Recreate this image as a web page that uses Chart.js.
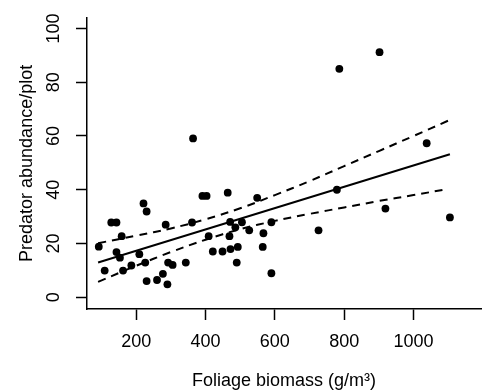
<!DOCTYPE html>
<html>
<head>
<meta charset="utf-8">
<script src="https://cdn.jsdelivr.net/npm/chart.js@4/dist/chart.umd.min.js"></script>
<style>
  html, body { margin: 0; padding: 0; background: #fff; }
  #wrap { width: 485px; height: 392px; position: relative; }
</style>
</head>
<body>
<div id="wrap"><canvas id="c" width="485" height="392"></canvas></div>
<script>
// Observed points: foliage biomass (g/m^3) vs predator abundance per plot
const biomass = [92, 109, 128, 143, 143, 153, 158, 162, 186, 209, 221, 230, 226, 230, 260, 277, 290, 285, 292, 305, 343, 361, 364, 391, 403, 409, 421, 449, 464, 471, 486, 505, 469, 472, 493, 490, 526, 549, 567, 565, 590, 590, 726, 779, 786, 902, 919, 1038, 1105];
const predators = [18.8, 9.9, 27.8, 27.8, 16.8, 14.7, 22.7, 9.9, 11.8, 16, 34.9, 31.9, 12.9, 6, 6.4, 8.7, 4.8, 27, 12.9, 12, 12.9, 27.8, 59.1, 37.7, 37.7, 22.7, 17, 17, 38.9, 28, 26, 27.9, 22.7, 17.9, 18.7, 12.9, 24.9, 37, 23.8, 18.7, 27.9, 8.9, 24.9, 40, 85, 91.2, 33, 57.3, 29.7];

// Fitted regression line (endpoints)
const fitX = [90, 1105];
const fitY = [12.9, 53.2];

// Confidence band, read at sample positions
const bandX = [90, 200, 300, 400, 500, 600, 700, 800, 900, 1000, 1100];
const bandUpper = [20.1, 22.9, 25.6, 29.0, 33.1, 38.0, 43.2, 48.8, 54.4, 60.0, 65.7];
const bandLower = [5.7, 11.7, 16.8, 21.4, 25.3, 28.4, 31.0, 33.4, 35.8, 38.0, 40.3];

// Tick labels
const xTicks = [200, 400, 600, 800, 1000];
const yTicks = [0, 20, 40, 60, 80, 100];

const FONT = "'Liberation Sans', Arial, sans-serif";
const pts = (xa, ya) => xa.map((x, i) => ({ x: x, y: ya[i] }));

new Chart(document.getElementById('c'), {
  type: 'scatter',
  data: {
    datasets: [
      {
        label: 'points',
        data: pts(biomass, predators),
        backgroundColor: '#000',
        borderColor: '#000',
        pointRadius: 3.9,
        pointBorderWidth: 0,
        pointHoverRadius: 3.9
      },
      {
        label: 'fit',
        data: pts(fitX, fitY),
        showLine: true,
        borderColor: '#000',
        borderWidth: 2,
        pointRadius: 0,
        fill: false
      },
      {
        label: 'upper',
        data: pts(bandX, bandUpper),
        showLine: true,
        borderColor: '#000',
        borderWidth: 2,
        borderDash: [8, 6],
        pointRadius: 0,
        tension: 0.4,
        fill: false
      },
      {
        label: 'lower',
        data: pts(bandX, bandLower),
        showLine: true,
        borderColor: '#000',
        borderWidth: 2,
        borderDash: [8, 6],
        pointRadius: 0,
        tension: 0.4,
        fill: false
      }
    ]
  },
  options: {
    responsive: false,
    animation: false,
    events: [],
    layout: { padding: { left: 0, right: 0, top: 13, bottom: 0 } },
    plugins: { legend: { display: false }, tooltip: { enabled: false } },
    scales: {
      x: {
        type: 'linear',
        min: 58,
        max: 1195,
        afterBuildTicks: (s) => { s.ticks = xTicks.map(v => ({ value: v })); },
        afterFit: (s) => { s.height = 83; },
        grid: { display: true, drawOnChartArea: false, drawTicks: true, tickLength: 11, tickColor: '#000', tickWidth: 1.5 },
        border: { display: true, color: '#000', width: 1.5 },
        ticks: { color: '#000', font: { family: FONT, size: 18 }, padding: 11, autoSkip: false, maxRotation: 0, minRotation: 0, callback: (v) => String(v) },
        title: { display: true, text: 'Foliage biomass (g/m³)', color: '#000', font: { family: FONT, size: 18 }, padding: { top: 0, bottom: 0 } }
      },
      y: {
        type: 'linear',
        min: -4.4,
        max: 104,
        afterBuildTicks: (s) => { s.ticks = yTicks.map(v => ({ value: v })); },
        afterFit: (s) => { s.width = 87; },
        grid: { display: true, drawOnChartArea: false, drawTicks: true, tickLength: 11, tickColor: '#000', tickWidth: 1.5 },
        border: { display: true, color: '#000', width: 1.5 },
        ticks: { color: '#000', font: { family: FONT, size: 18 }, padding: 7, crossAlign: 'center', minRotation: 90, maxRotation: 90, autoSkip: false, callback: (v) => String(v) },
        title: { display: true, text: 'Predator abundance/plot', color: '#000', font: { family: FONT, size: 18 }, padding: { top: 16, bottom: 0 } }
      }
    }
  }
});
</script>
</body>
</html>
